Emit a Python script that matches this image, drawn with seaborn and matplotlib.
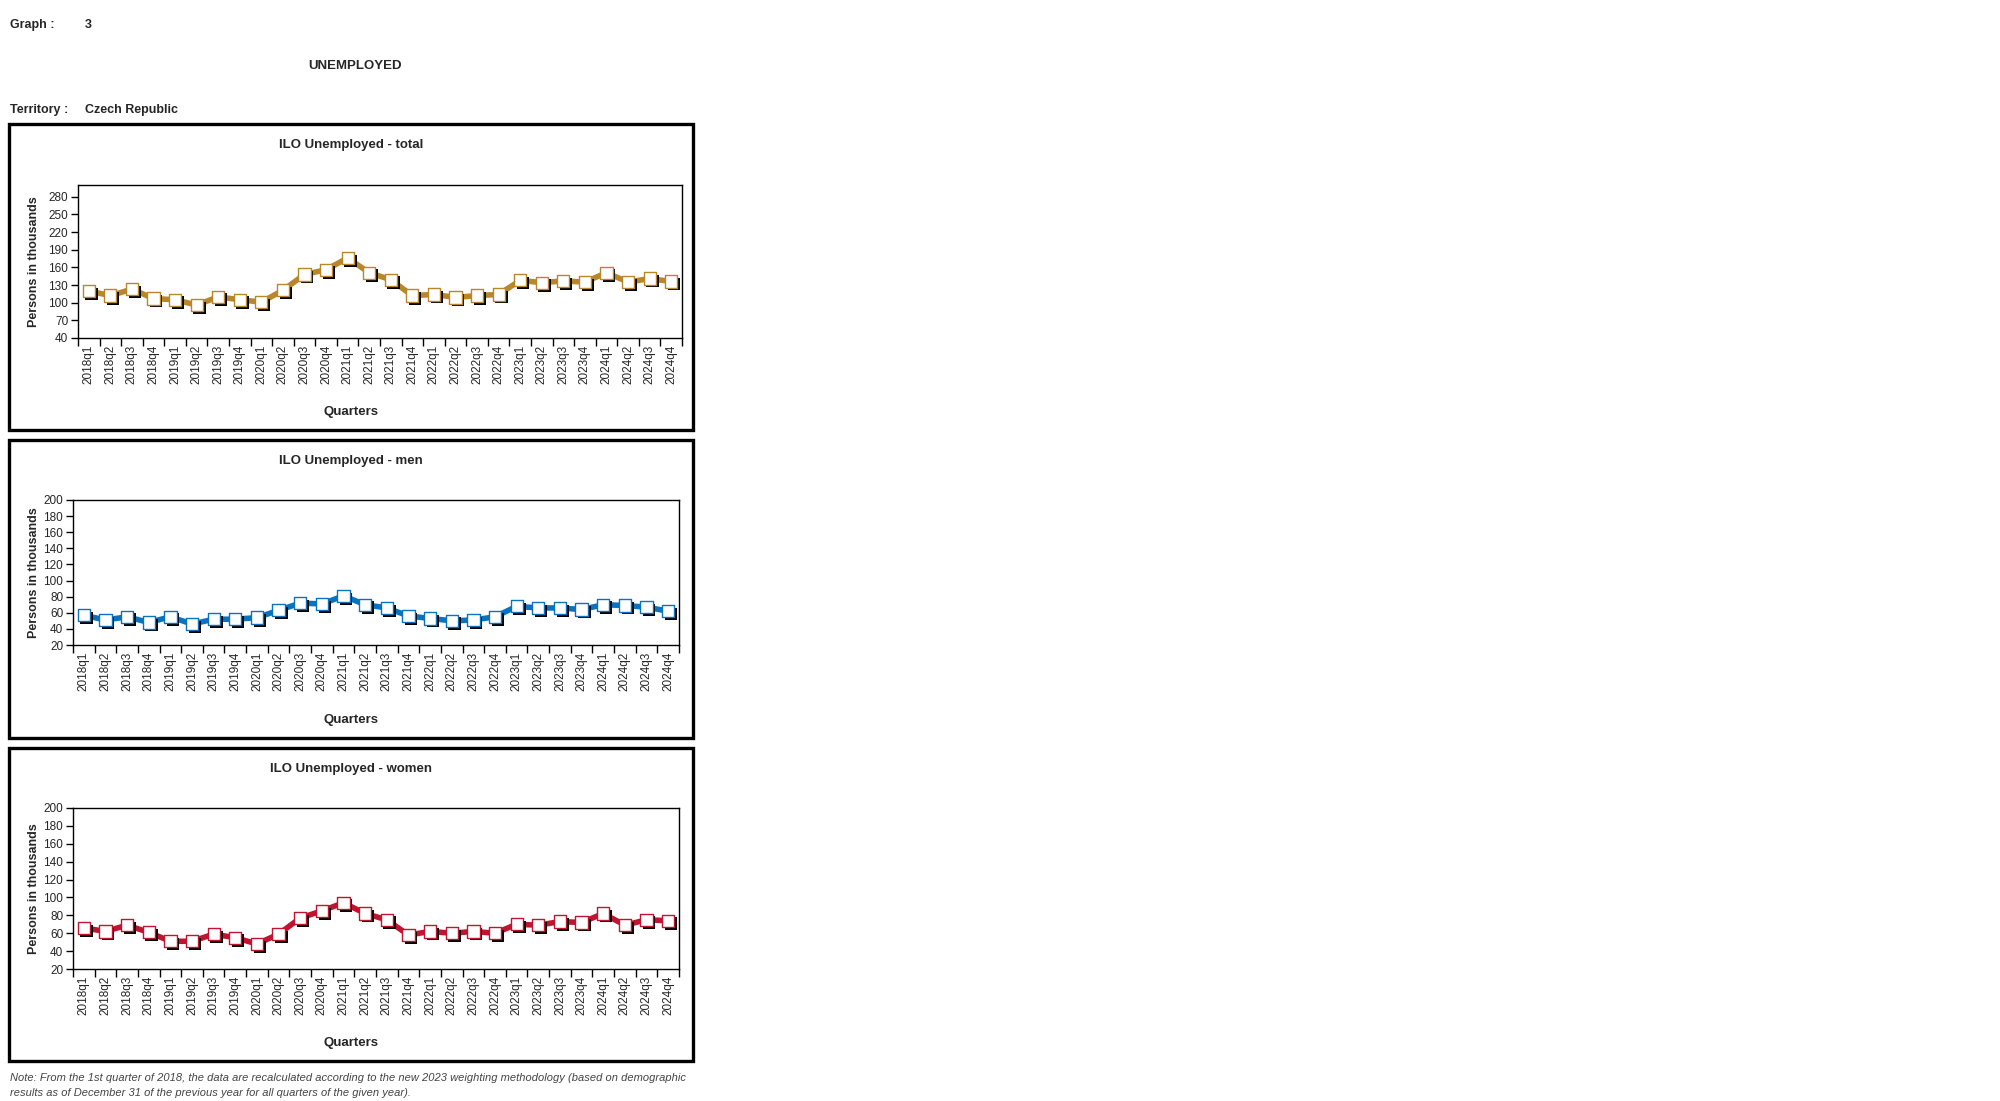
import numpy as np
import pandas as pd
import seaborn as sns
import matplotlib
matplotlib.use('Agg')
import matplotlib.pyplot as plt
import matplotlib.patheffects as pe
from matplotlib.patches import Rectangle

# data (persons in thousands)
quarters = ['2018q1', '2018q2', '2018q3', '2018q4', '2019q1', '2019q2', '2019q3', '2019q4',
            '2020q1', '2020q2', '2020q3', '2020q4', '2021q1', '2021q2', '2021q3', '2021q4',
            '2022q1', '2022q2', '2022q3', '2022q4', '2023q1', '2023q2', '2023q3', '2023q4',
            '2024q1', '2024q2', '2024q3', '2024q4']
total = [120, 112, 123, 107, 105, 96, 110, 105, 101, 121, 148, 156, 176, 151,
         139, 112, 114, 109, 112, 114, 138, 134, 137, 135, 151, 135, 141, 136]
men = [57, 51, 55, 48, 55, 46, 52, 52, 54, 63, 72, 71, 81, 70,
       66, 56, 53, 50, 51, 55, 68, 66, 66, 64, 70, 69, 67, 62]
women = [66, 62, 69, 61, 51, 51, 59, 55, 48, 59, 77, 85, 94, 82,
         75, 58, 62, 60, 62, 60, 70, 69, 73, 72, 82, 69, 75, 74]

sns.set_style('ticks')
plt.rcParams['font.family'] = ['Liberation Sans', 'DejaVu Sans']

W, H = 2000, 1101
fig = plt.figure(figsize=(W / 100, H / 100), dpi=100)


def fx(x):
    return x / W


def fy(y):
    return 1 - y / H


def panel(rect, box, title, vals, color, ymin, ymax, step, ytop):
    # frame around the chart
    x0, y0, x1, y1 = box
    fig.patches.append(Rectangle((fx(x0), fy(y1)), fx(x1 - x0), (y1 - y0) / H,
                                 transform=fig.transFigure, fill=False,
                                 edgecolor='black', linewidth=2.4))
    l, t, r, b = rect
    ax = fig.add_axes([fx(l), fy(b), fx(r - l), (b - t) / H])
    df = pd.DataFrame({'pos': np.arange(len(quarters)), 'val': vals})
    sns.lineplot(data=df, x='pos', y='val', color=color, lw=4.0, ax=ax, zorder=2)
    sns.scatterplot(data=df, x='pos', y='val', marker='s', s=78, color='white',
                    edgecolor=color, linewidth=1.0, ax=ax, zorder=3,
                    path_effects=[pe.SimplePatchShadow(offset=(2.0, -2.0),
                                                       shadow_rgbFace='black', alpha=1),
                                  pe.Normal()])
    ax.set_xlim(-0.5, len(quarters) - 0.5)
    ax.set_xticks(np.arange(len(quarters)))
    ax.set_xticklabels(quarters, rotation=90, fontsize=8.5)
    ax.set_xticks(np.arange(-0.5, len(quarters)), minor=True)
    ax.tick_params(axis='x', which='major', length=0, pad=5)
    ax.tick_params(axis='x', which='minor', length=6, width=1, direction='out', color='black')
    ax.set_ylim(ymin, ytop)
    ax.set_yticks(np.arange(ymin, ymax + 1, step))
    ax.tick_params(axis='y', length=5, width=1, direction='out', pad=2, color='black',
                   labelsize=8.5)
    ax.set_xlabel('')
    ax.set_ylabel('')
    for s in ax.spines.values():
        s.set_visible(True)
        s.set_linewidth(1)
        s.set_color('black')
    cx = (x0 + x1) / 2
    fig.text(fx(cx), fy(y0 + 21), title, ha='center', va='center',
             fontsize=9.5, fontweight='bold')
    fig.text(fx(cx), fy(y1 - 18), 'Quarters', ha='center', va='center',
             fontsize=9.5, fontweight='bold')
    fig.text(fx(34), fy((t + b) / 2), 'Persons in thousands', ha='center', va='center',
             rotation=90, fontsize=9, fontweight='bold')
    return ax


panel((78, 185, 682, 338), (9, 124, 693, 430), 'ILO Unemployed - total',
      total, '#B8862B', 40, 280, 30, 300)
panel((73, 500, 679, 645), (9, 440, 693, 738), 'ILO Unemployed - men',
      men, '#0B72BD', 20, 200, 20, 200)
panel((73, 808, 679, 969), (9, 748, 693, 1061), 'ILO Unemployed - women',
      women, '#C01530', 20, 200, 20, 200)

# header
fig.text(fx(10), fy(25), 'Graph :', ha='left', va='center', fontsize=9,
         fontweight='bold')
fig.text(fx(85), fy(25), '3', ha='left', va='center', fontsize=9,
         fontweight='bold')
fig.text(fx(355), fy(66), 'UNEMPLOYED', ha='center', va='center', fontsize=9.5,
         fontweight='bold')
fig.text(fx(10), fy(110), 'Territory :', ha='left', va='center', fontsize=9,
         fontweight='bold')
fig.text(fx(85), fy(110), 'Czech Republic', ha='left', va='center', fontsize=9,
         fontweight='bold')

# footnote
fig.text(fx(10), fy(1078), 'Note: From the 1st quarter of 2018, the data are recalculated according '
         'to the new 2023 weighting methodology (based on demographic',
         ha='left', va='center', fontsize=8, style='italic', color='#444444')
fig.text(fx(10), fy(1093), 'results as of December 31 of the previous year for all quarters '
         'of the given year).',
         ha='left', va='center', fontsize=8, style='italic', color='#444444')

fig.savefig('out.png', dpi=100, facecolor='white')
